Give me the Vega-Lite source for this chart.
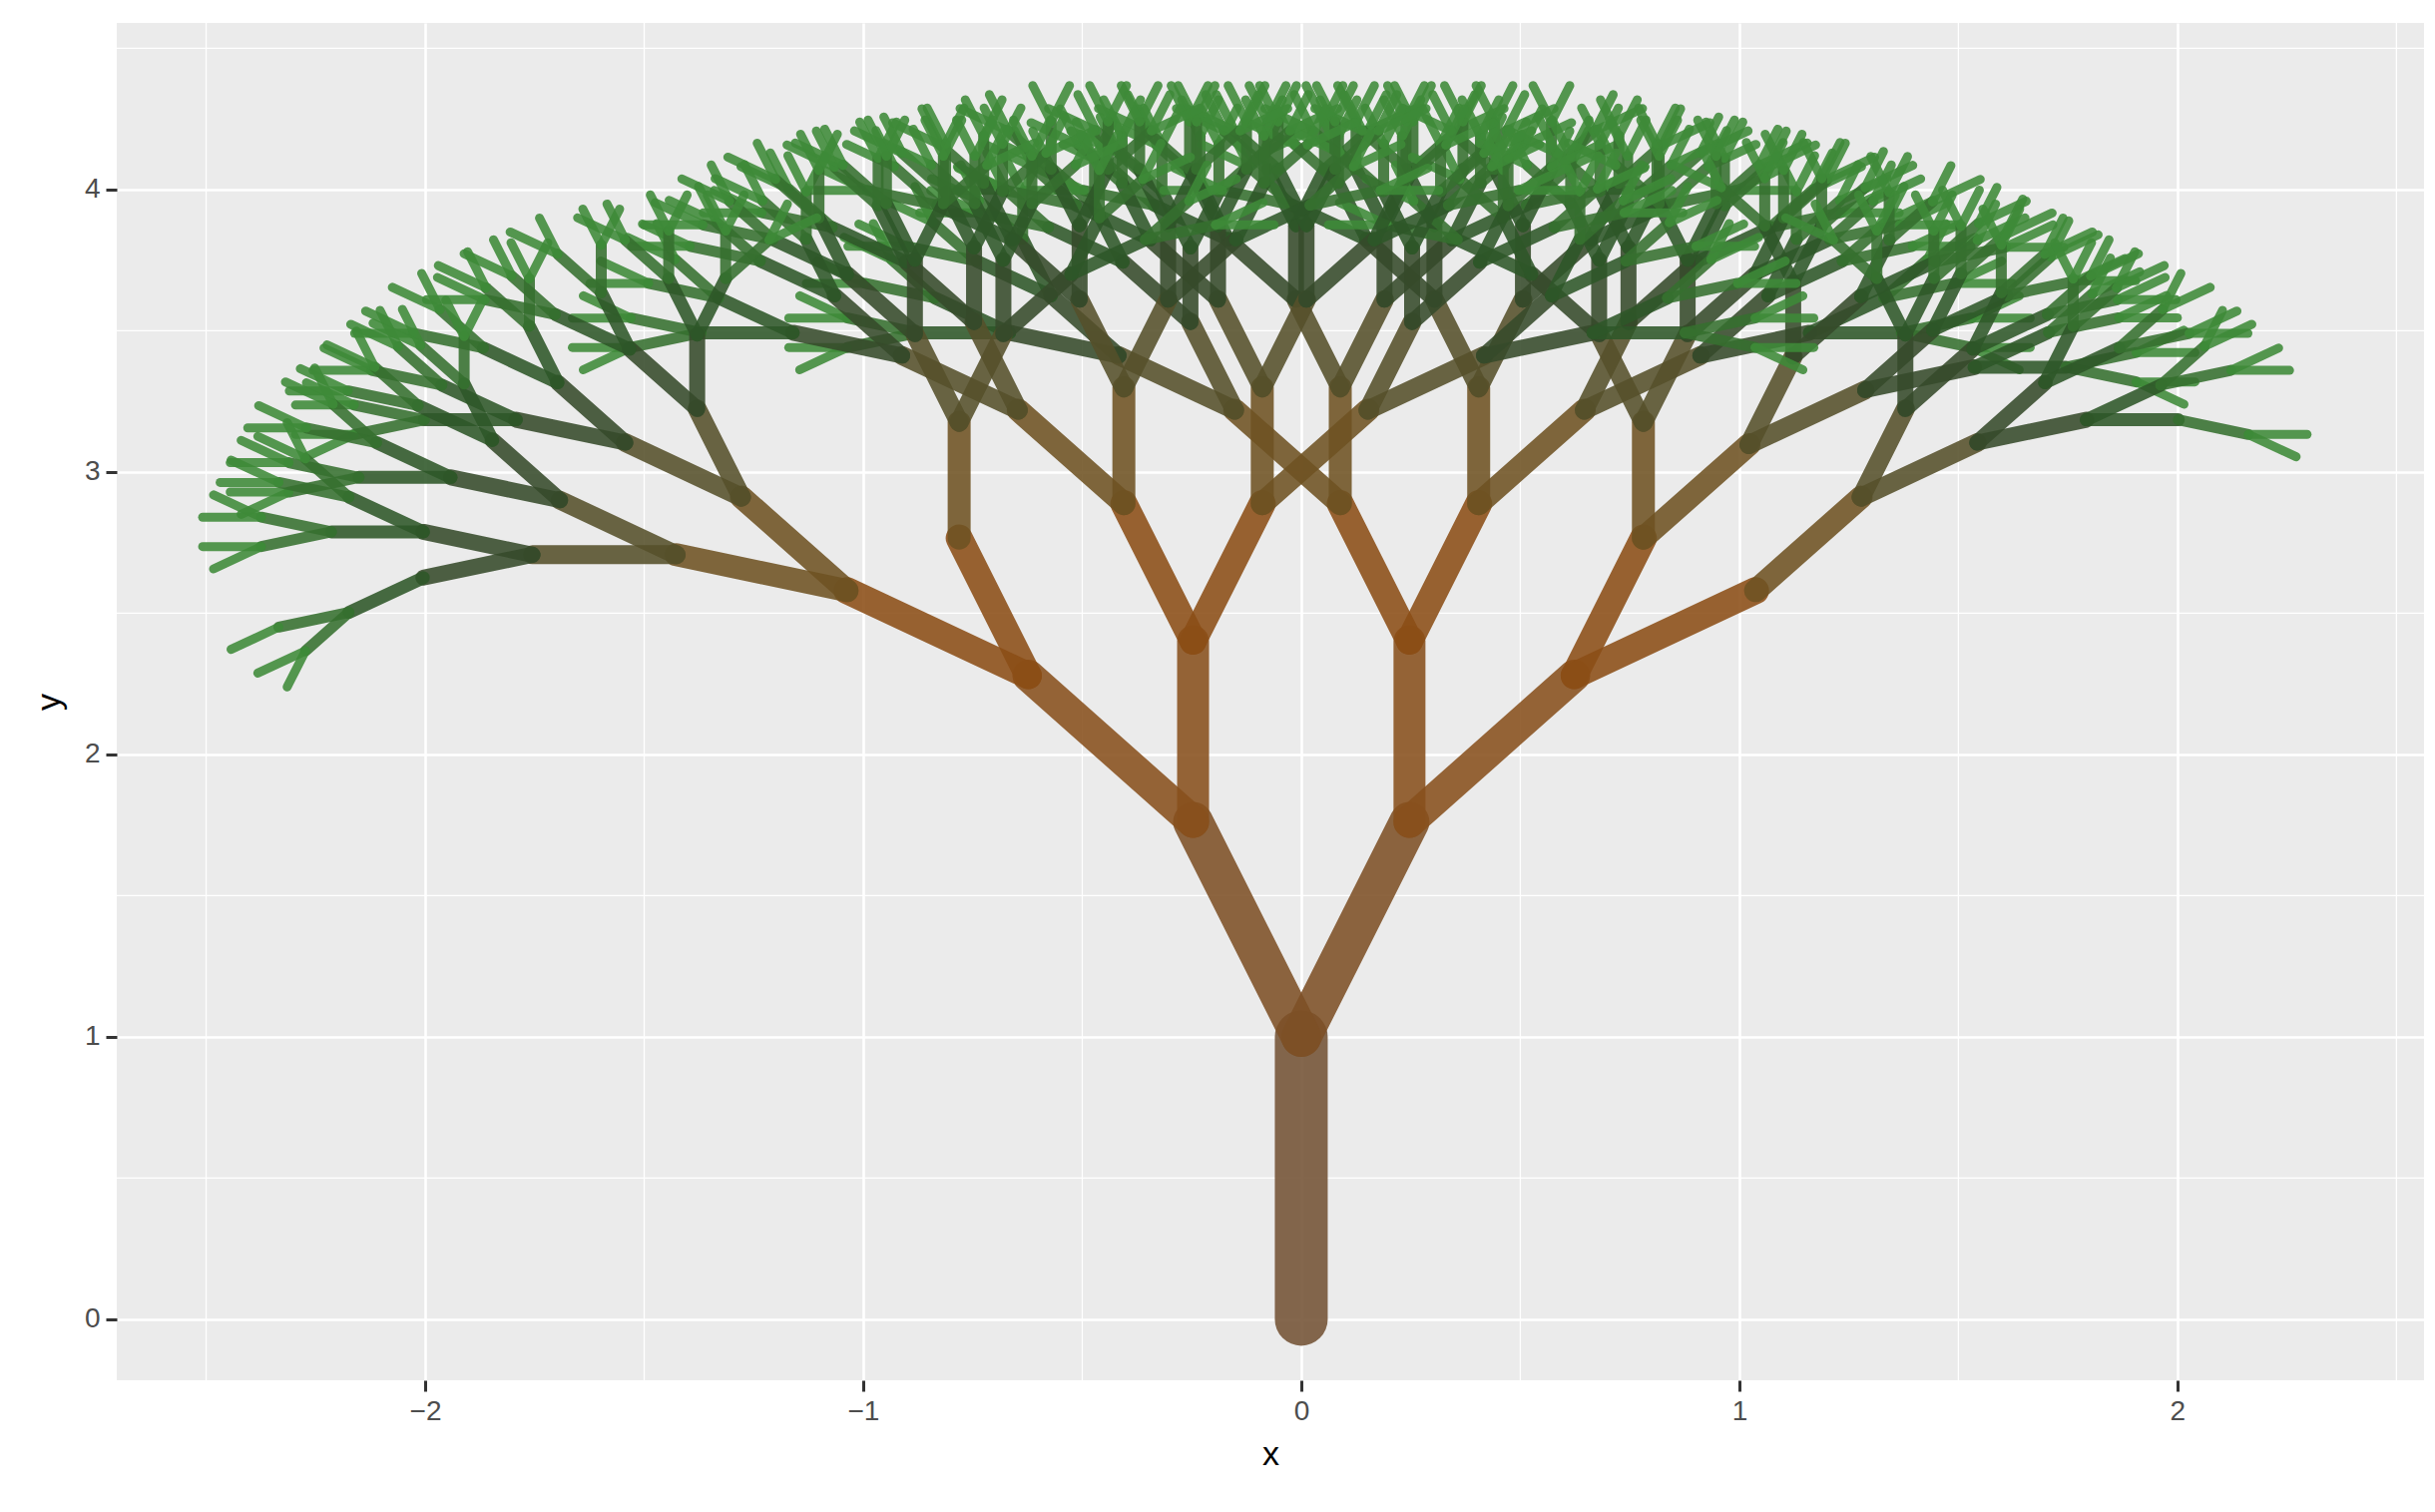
{
  "$schema": "https://vega.github.io/schema/vega-lite/v6.json",
  "width": 2312,
  "height": 1360,
  "autosize": {"type": "none"},
  "padding": {"left": 117, "top": 23, "right": 11, "bottom": 132},
  "background": "white",
  "config": {
    "view": {"fill": "#EBEBEB", "stroke": null},
    "axis": {
      "domain": false,
      "gridColor": "white",
      "gridWidth": 2.6,
      "tickColor": "#333333",
      "tickWidth": 3,
      "tickSize": 11,
      "labelFont": "Liberation Sans",
      "labelFontSize": 28,
      "labelColor": "#4D4D4D",
      "labelPadding": 6,
      "titleFont": "Liberation Sans",
      "titleFontSize": 34,
      "titleFontWeight": "normal",
      "titleColor": "black"
    }
  },
  "layer": [
    {
      "data": {"values": [{"x": -2.5}, {"x": -1.5}, {"x": -0.5}, {"x": 0.5}, {"x": 1.5}, {"x": 2.5}]},
      "mark": {"type": "rule", "color": "white", "strokeWidth": 1.3},
      "encoding": {
        "x": {"field": "x", "type": "quantitative", "scale": {"domain": [-2.704, 2.563], "nice": false, "zero": false},
              "axis": {"values": [-2, -1, 0, 1, 2], "format": "d", "title": "x", "titlePadding": 12}}
      }
    },
    {
      "data": {"values": [{"y": 0.5}, {"y": 1.5}, {"y": 2.5}, {"y": 3.5}, {"y": 4.5}]},
      "mark": {"type": "rule", "color": "white", "strokeWidth": 1.3},
      "encoding": {
        "y": {"field": "y", "type": "quantitative", "scale": {"domain": [-0.216, 4.59], "nice": false, "zero": false},
              "axis": {"values": [0, 1, 2, 3, 4], "format": "d", "title": "y", "titlePadding": 18}}
      }
    },
    {
      "data": {
        "format": {"type": "csv", "parse": {"d": "number", "x": "number", "y": "number", "x2": "number", "y2": "number"}},
        "values": "d,x,y,x2,y2\n0,0,0,0,1\n1,0,1,0.247,1.761\n2,0.247,1.761,0.247,2.401\n2,0.247,1.761,0.623,2.279\n3,0.247,2.401,0.089,2.888\n3,0.247,2.401,0.405,2.888\n3,0.623,2.279,0.781,2.766\n3,0.623,2.279,1.037,2.580\n4,0.089,2.888,-0.152,3.219\n4,0.089,2.888,0.089,3.298\n4,0.405,2.888,0.405,3.298\n4,0.405,2.888,0.646,3.219\n4,0.781,2.766,0.781,3.176\n4,0.781,2.766,1.022,3.097\n4,1.037,2.580,1.278,2.911\n5,-0.152,3.219,-0.417,3.412\n5,-0.152,3.219,-0.253,3.531\n6,-0.417,3.412,-0.666,3.493\n6,-0.417,3.412,-0.571,3.624\n7,-0.666,3.493,-0.876,3.493\n7,-0.666,3.493,-0.836,3.616\n8,-0.876,3.493,-1.036,3.441\n8,-0.876,3.493,-1.036,3.545\n9,-1.036,3.441,-1.145,3.362\n9,-1.036,3.441,-1.170,3.441\n9,-1.036,3.545,-1.170,3.545\n9,-1.036,3.545,-1.145,3.624\n8,-0.836,3.616,-0.996,3.668\n8,-0.836,3.616,-0.935,3.752\n9,-0.996,3.668,-1.130,3.668\n9,-0.996,3.668,-1.105,3.747\n9,-0.935,3.752,-1.044,3.831\n9,-0.935,3.752,-0.977,3.880\n7,-0.571,3.624,-0.741,3.747\n7,-0.571,3.624,-0.636,3.824\n8,-0.741,3.747,-0.901,3.799\n8,-0.741,3.747,-0.840,3.883\n9,-0.901,3.799,-1.035,3.799\n9,-0.901,3.799,-1.010,3.878\n9,-0.840,3.883,-0.949,3.962\n9,-0.840,3.883,-0.882,4.011\n8,-0.636,3.824,-0.735,3.960\n8,-0.636,3.824,-0.636,3.992\n9,-0.735,3.960,-0.844,4.039\n9,-0.735,3.960,-0.777,4.088\n9,-0.636,3.992,-0.678,4.120\n9,-0.636,3.992,-0.594,4.120\n6,-0.253,3.531,-0.407,3.743\n6,-0.253,3.531,-0.253,3.793\n7,-0.407,3.743,-0.577,3.866\n7,-0.407,3.743,-0.472,3.943\n8,-0.577,3.866,-0.737,3.918\n8,-0.577,3.866,-0.676,4.002\n9,-0.737,3.918,-0.871,3.918\n9,-0.737,3.918,-0.846,3.997\n9,-0.676,4.002,-0.785,4.081\n9,-0.676,4.002,-0.718,4.130\n8,-0.472,3.943,-0.571,4.079\n8,-0.472,3.943,-0.472,4.111\n9,-0.571,4.079,-0.680,4.158\n9,-0.571,4.079,-0.613,4.207\n9,-0.472,4.111,-0.514,4.239\n9,-0.472,4.111,-0.430,4.239\n7,-0.253,3.793,-0.318,3.993\n7,-0.253,3.793,-0.188,3.993\n8,-0.318,3.993,-0.417,4.129\n8,-0.318,3.993,-0.318,4.161\n9,-0.417,4.129,-0.526,4.208\n9,-0.417,4.129,-0.459,4.257\n9,-0.318,4.161,-0.360,4.289\n9,-0.318,4.161,-0.276,4.289\n8,-0.188,3.993,-0.188,4.161\n8,-0.188,3.993,-0.089,4.129\n9,-0.188,4.161,-0.230,4.289\n9,-0.188,4.161,-0.146,4.289\n9,-0.089,4.129,-0.047,4.257\n9,-0.089,4.129,0.020,4.208\n5,0.089,3.298,-0.012,3.610\n5,0.089,3.298,0.190,3.610\n6,-0.012,3.610,-0.166,3.822\n6,-0.012,3.610,-0.012,3.872\n7,-0.166,3.822,-0.336,3.945\n7,-0.166,3.822,-0.231,4.022\n8,-0.336,3.945,-0.496,3.997\n8,-0.336,3.945,-0.435,4.081\n9,-0.496,3.997,-0.630,3.997\n9,-0.496,3.997,-0.605,4.076\n9,-0.435,4.081,-0.544,4.160\n9,-0.435,4.081,-0.477,4.209\n8,-0.231,4.022,-0.330,4.158\n8,-0.231,4.022,-0.231,4.190\n9,-0.330,4.158,-0.439,4.237\n9,-0.330,4.158,-0.372,4.286\n9,-0.231,4.190,-0.273,4.318\n9,-0.231,4.190,-0.189,4.318\n7,-0.012,3.872,-0.077,4.072\n7,-0.012,3.872,0.053,4.072\n8,-0.077,4.072,-0.176,4.208\n8,-0.077,4.072,-0.077,4.240\n9,-0.176,4.208,-0.285,4.287\n9,-0.176,4.208,-0.218,4.336\n9,-0.077,4.240,-0.119,4.368\n9,-0.077,4.240,-0.035,4.368\n8,0.053,4.072,0.053,4.240\n8,0.053,4.072,0.152,4.208\n9,0.053,4.240,0.011,4.368\n9,0.053,4.240,0.095,4.368\n9,0.152,4.208,0.194,4.336\n9,0.152,4.208,0.261,4.287\n6,0.190,3.610,0.190,3.872\n6,0.190,3.610,0.344,3.822\n7,0.190,3.872,0.125,4.072\n7,0.190,3.872,0.255,4.072\n8,0.125,4.072,0.026,4.208\n8,0.125,4.072,0.125,4.240\n9,0.026,4.208,-0.083,4.287\n9,0.026,4.208,-0.016,4.336\n9,0.125,4.240,0.083,4.368\n9,0.125,4.240,0.167,4.368\n8,0.255,4.072,0.255,4.240\n8,0.255,4.072,0.354,4.208\n9,0.255,4.240,0.213,4.368\n9,0.255,4.240,0.297,4.368\n9,0.354,4.208,0.396,4.336\n9,0.354,4.208,0.463,4.287\n7,0.344,3.822,0.409,4.022\n7,0.344,3.822,0.514,3.945\n8,0.409,4.022,0.409,4.190\n8,0.409,4.022,0.508,4.158\n9,0.409,4.190,0.367,4.318\n9,0.409,4.190,0.451,4.318\n9,0.508,4.158,0.550,4.286\n9,0.508,4.158,0.617,4.237\n8,0.514,3.945,0.613,4.081\n8,0.514,3.945,0.674,3.997\n9,0.613,4.081,0.655,4.209\n9,0.613,4.081,0.722,4.160\n9,0.674,3.997,0.783,4.076\n9,0.674,3.997,0.808,3.997\n5,0.405,3.298,0.304,3.610\n5,0.405,3.298,0.506,3.610\n6,0.304,3.610,0.150,3.822\n6,0.304,3.610,0.304,3.872\n7,0.150,3.822,-0.020,3.945\n7,0.150,3.822,0.085,4.022\n8,-0.020,3.945,-0.180,3.997\n8,-0.020,3.945,-0.119,4.081\n9,-0.180,3.997,-0.314,3.997\n9,-0.180,3.997,-0.289,4.076\n9,-0.119,4.081,-0.228,4.160\n9,-0.119,4.081,-0.161,4.209\n8,0.085,4.022,-0.014,4.158\n8,0.085,4.022,0.085,4.190\n9,-0.014,4.158,-0.123,4.237\n9,-0.014,4.158,-0.056,4.286\n9,0.085,4.190,0.043,4.318\n9,0.085,4.190,0.127,4.318\n7,0.304,3.872,0.239,4.072\n7,0.304,3.872,0.369,4.072\n8,0.239,4.072,0.140,4.208\n8,0.239,4.072,0.239,4.240\n9,0.140,4.208,0.031,4.287\n9,0.140,4.208,0.098,4.336\n9,0.239,4.240,0.197,4.368\n9,0.239,4.240,0.281,4.368\n8,0.369,4.072,0.369,4.240\n8,0.369,4.072,0.468,4.208\n9,0.369,4.240,0.327,4.368\n9,0.369,4.240,0.411,4.368\n9,0.468,4.208,0.510,4.336\n9,0.468,4.208,0.577,4.287\n6,0.506,3.610,0.506,3.872\n6,0.506,3.610,0.660,3.822\n7,0.506,3.872,0.441,4.072\n7,0.506,3.872,0.571,4.072\n8,0.441,4.072,0.342,4.208\n8,0.441,4.072,0.441,4.240\n9,0.342,4.208,0.233,4.287\n9,0.342,4.208,0.300,4.336\n9,0.441,4.240,0.399,4.368\n9,0.441,4.240,0.483,4.368\n8,0.571,4.072,0.571,4.240\n8,0.571,4.072,0.670,4.208\n9,0.571,4.240,0.529,4.368\n9,0.571,4.240,0.613,4.368\n9,0.670,4.208,0.712,4.336\n9,0.670,4.208,0.779,4.287\n7,0.660,3.822,0.725,4.022\n7,0.660,3.822,0.830,3.945\n8,0.725,4.022,0.725,4.190\n8,0.725,4.022,0.824,4.158\n9,0.725,4.190,0.683,4.318\n9,0.725,4.190,0.767,4.318\n9,0.824,4.158,0.866,4.286\n9,0.824,4.158,0.933,4.237\n8,0.830,3.945,0.929,4.081\n8,0.830,3.945,0.990,3.997\n9,0.929,4.081,0.971,4.209\n9,0.929,4.081,1.038,4.160\n9,0.990,3.997,1.099,4.076\n9,0.990,3.997,1.124,3.997\n5,0.646,3.219,0.747,3.531\n5,0.646,3.219,0.911,3.412\n6,0.747,3.531,0.747,3.793\n6,0.747,3.531,0.901,3.743\n7,0.747,3.793,0.682,3.993\n7,0.747,3.793,0.812,3.993\n8,0.682,3.993,0.583,4.129\n8,0.682,3.993,0.682,4.161\n9,0.583,4.129,0.474,4.208\n9,0.583,4.129,0.541,4.257\n9,0.682,4.161,0.640,4.289\n9,0.682,4.161,0.724,4.289\n8,0.812,3.993,0.812,4.161\n8,0.812,3.993,0.911,4.129\n9,0.812,4.161,0.770,4.289\n9,0.812,4.161,0.854,4.289\n9,0.911,4.129,0.953,4.257\n9,0.911,4.129,1.020,4.208\n7,0.901,3.743,0.966,3.943\n7,0.901,3.743,1.071,3.866\n8,0.966,3.943,0.966,4.111\n8,0.966,3.943,1.065,4.079\n9,0.966,4.111,0.924,4.239\n9,0.966,4.111,1.008,4.239\n9,1.065,4.079,1.107,4.207\n9,1.065,4.079,1.174,4.158\n8,1.071,3.866,1.170,4.002\n8,1.071,3.866,1.231,3.918\n9,1.170,4.002,1.212,4.130\n9,1.170,4.002,1.279,4.081\n9,1.231,3.918,1.340,3.997\n9,1.231,3.918,1.365,3.918\n6,0.911,3.412,1.065,3.624\n6,0.911,3.412,1.160,3.493\n7,1.065,3.624,1.130,3.824\n7,1.065,3.624,1.235,3.747\n8,1.130,3.824,1.130,3.992\n8,1.130,3.824,1.229,3.960\n9,1.130,3.992,1.088,4.120\n9,1.130,3.992,1.172,4.120\n9,1.229,3.960,1.271,4.088\n9,1.229,3.960,1.338,4.039\n8,1.235,3.747,1.334,3.883\n8,1.235,3.747,1.395,3.799\n9,1.334,3.883,1.376,4.011\n9,1.334,3.883,1.443,3.962\n9,1.395,3.799,1.504,3.878\n9,1.395,3.799,1.529,3.799\n7,1.160,3.493,1.330,3.616\n7,1.160,3.493,1.370,3.493\n8,1.330,3.616,1.429,3.752\n8,1.330,3.616,1.490,3.668\n9,1.429,3.752,1.471,3.880\n9,1.429,3.752,1.538,3.831\n9,1.490,3.668,1.599,3.747\n9,1.490,3.668,1.624,3.668\n8,1.370,3.493,1.530,3.545\n8,1.370,3.493,1.530,3.441\n9,1.530,3.545,1.639,3.624\n9,1.530,3.545,1.664,3.545\n9,1.530,3.441,1.664,3.441\n9,1.530,3.441,1.639,3.362\n5,0.781,3.176,0.680,3.488\n5,0.781,3.176,0.882,3.488\n6,0.680,3.488,0.526,3.700\n6,0.680,3.488,0.680,3.750\n7,0.526,3.700,0.356,3.823\n7,0.526,3.700,0.461,3.900\n8,0.356,3.823,0.196,3.875\n8,0.356,3.823,0.257,3.959\n9,0.196,3.875,0.062,3.875\n9,0.196,3.875,0.087,3.954\n9,0.257,3.959,0.148,4.038\n9,0.257,3.959,0.215,4.087\n8,0.461,3.900,0.362,4.036\n8,0.461,3.900,0.461,4.068\n9,0.362,4.036,0.253,4.115\n9,0.362,4.036,0.320,4.164\n9,0.461,4.068,0.419,4.196\n9,0.461,4.068,0.503,4.196\n7,0.680,3.750,0.615,3.950\n7,0.680,3.750,0.745,3.950\n8,0.615,3.950,0.516,4.086\n8,0.615,3.950,0.615,4.118\n9,0.516,4.086,0.407,4.165\n9,0.516,4.086,0.474,4.214\n9,0.615,4.118,0.573,4.246\n9,0.615,4.118,0.657,4.246\n8,0.745,3.950,0.745,4.118\n8,0.745,3.950,0.844,4.086\n9,0.745,4.118,0.703,4.246\n9,0.745,4.118,0.787,4.246\n9,0.844,4.086,0.886,4.214\n9,0.844,4.086,0.953,4.165\n6,0.882,3.488,0.882,3.750\n6,0.882,3.488,1.036,3.700\n7,0.882,3.750,0.817,3.950\n7,0.882,3.750,0.947,3.950\n8,0.817,3.950,0.718,4.086\n8,0.817,3.950,0.817,4.118\n9,0.718,4.086,0.609,4.165\n9,0.718,4.086,0.676,4.214\n9,0.817,4.118,0.775,4.246\n9,0.817,4.118,0.859,4.246\n8,0.947,3.950,0.947,4.118\n8,0.947,3.950,1.046,4.086\n9,0.947,4.118,0.905,4.246\n9,0.947,4.118,0.989,4.246\n9,1.046,4.086,1.088,4.214\n9,1.046,4.086,1.155,4.165\n7,1.036,3.700,1.101,3.900\n7,1.036,3.700,1.206,3.823\n8,1.101,3.900,1.101,4.068\n8,1.101,3.900,1.200,4.036\n9,1.101,4.068,1.059,4.196\n9,1.101,4.068,1.143,4.196\n9,1.200,4.036,1.242,4.164\n9,1.200,4.036,1.309,4.115\n8,1.206,3.823,1.305,3.959\n8,1.206,3.823,1.366,3.875\n9,1.305,3.959,1.347,4.087\n9,1.305,3.959,1.414,4.038\n9,1.366,3.875,1.475,3.954\n9,1.366,3.875,1.500,3.875\n5,1.022,3.097,1.123,3.409\n5,1.022,3.097,1.287,3.290\n6,1.123,3.409,1.123,3.671\n6,1.123,3.409,1.277,3.621\n7,1.123,3.671,1.058,3.871\n7,1.123,3.671,1.188,3.871\n8,1.058,3.871,0.959,4.007\n8,1.058,3.871,1.058,4.039\n9,0.959,4.007,0.850,4.086\n9,0.959,4.007,0.917,4.135\n9,1.058,4.039,1.016,4.167\n9,1.058,4.039,1.100,4.167\n8,1.188,3.871,1.188,4.039\n8,1.188,3.871,1.287,4.007\n9,1.188,4.039,1.146,4.167\n9,1.188,4.039,1.230,4.167\n9,1.287,4.007,1.329,4.135\n9,1.287,4.007,1.396,4.086\n7,1.277,3.621,1.342,3.821\n7,1.277,3.621,1.447,3.744\n8,1.342,3.821,1.342,3.989\n8,1.342,3.821,1.441,3.957\n9,1.342,3.989,1.300,4.117\n9,1.342,3.989,1.384,4.117\n9,1.441,3.957,1.483,4.085\n9,1.441,3.957,1.550,4.036\n8,1.447,3.744,1.546,3.880\n8,1.447,3.744,1.607,3.796\n9,1.546,3.880,1.588,4.008\n9,1.546,3.880,1.655,3.959\n9,1.607,3.796,1.716,3.875\n9,1.607,3.796,1.741,3.796\n6,1.287,3.290,1.441,3.502\n6,1.287,3.290,1.536,3.371\n7,1.441,3.502,1.506,3.702\n7,1.441,3.502,1.611,3.625\n8,1.506,3.702,1.506,3.870\n8,1.506,3.702,1.605,3.838\n9,1.506,3.870,1.464,3.998\n9,1.506,3.870,1.548,3.998\n9,1.605,3.838,1.647,3.966\n9,1.605,3.838,1.714,3.917\n8,1.611,3.625,1.710,3.761\n8,1.611,3.625,1.771,3.677\n9,1.710,3.761,1.752,3.889\n9,1.710,3.761,1.819,3.840\n9,1.771,3.677,1.880,3.756\n9,1.771,3.677,1.905,3.677\n7,1.536,3.371,1.706,3.494\n7,1.536,3.371,1.746,3.371\n8,1.706,3.494,1.805,3.630\n8,1.706,3.494,1.866,3.546\n9,1.805,3.630,1.847,3.758\n9,1.805,3.630,1.914,3.709\n9,1.866,3.546,1.975,3.625\n9,1.866,3.546,2.000,3.546\n8,1.746,3.371,1.906,3.423\n8,1.746,3.371,1.906,3.319\n9,1.906,3.423,2.015,3.502\n9,1.906,3.423,2.040,3.423\n9,1.906,3.319,2.040,3.319\n9,1.906,3.319,2.015,3.240\n5,1.278,2.911,1.379,3.223\n5,1.278,2.911,1.543,3.104\n6,1.379,3.223,1.379,3.485\n6,1.379,3.223,1.533,3.435\n7,1.379,3.485,1.314,3.685\n7,1.379,3.485,1.444,3.685\n8,1.314,3.685,1.215,3.821\n8,1.314,3.685,1.314,3.853\n9,1.215,3.821,1.106,3.900\n9,1.215,3.821,1.173,3.949\n9,1.314,3.853,1.272,3.981\n9,1.314,3.853,1.356,3.981\n8,1.444,3.685,1.444,3.853\n8,1.444,3.685,1.543,3.821\n9,1.444,3.853,1.402,3.981\n9,1.444,3.853,1.486,3.981\n9,1.543,3.821,1.585,3.949\n9,1.543,3.821,1.652,3.900\n7,1.533,3.435,1.598,3.635\n7,1.533,3.435,1.703,3.558\n8,1.598,3.635,1.598,3.803\n8,1.598,3.635,1.697,3.771\n9,1.598,3.803,1.556,3.931\n9,1.598,3.803,1.640,3.931\n9,1.697,3.771,1.739,3.899\n9,1.697,3.771,1.806,3.850\n8,1.703,3.558,1.802,3.694\n8,1.703,3.558,1.863,3.610\n9,1.802,3.694,1.844,3.822\n9,1.802,3.694,1.911,3.773\n9,1.863,3.610,1.972,3.689\n9,1.863,3.610,1.997,3.610\n6,1.543,3.104,1.697,3.316\n6,1.543,3.104,1.792,3.185\n7,1.697,3.316,1.762,3.516\n7,1.697,3.316,1.867,3.439\n8,1.762,3.516,1.762,3.684\n8,1.762,3.516,1.861,3.652\n9,1.762,3.684,1.720,3.812\n9,1.762,3.684,1.804,3.812\n9,1.861,3.652,1.903,3.780\n9,1.861,3.652,1.970,3.731\n8,1.867,3.439,1.966,3.575\n8,1.867,3.439,2.027,3.491\n9,1.966,3.575,2.008,3.703\n9,1.966,3.575,2.075,3.654\n9,2.027,3.491,2.136,3.570\n9,2.027,3.491,2.161,3.491\n7,1.792,3.185,1.962,3.308\n7,1.792,3.185,2.002,3.185\n8,1.962,3.308,2.061,3.444\n8,1.962,3.308,2.122,3.360\n9,2.061,3.444,2.103,3.572\n9,2.061,3.444,2.170,3.523\n9,2.122,3.360,2.231,3.439\n9,2.122,3.360,2.256,3.360\n8,2.002,3.185,2.162,3.133\n9,2.162,3.133,2.296,3.133\n9,2.162,3.133,2.271,3.054\n1,0,1,-0.247,1.761\n2,-0.247,1.761,-0.247,2.401\n2,-0.247,1.761,-0.623,2.279\n3,-0.247,2.401,-0.089,2.888\n3,-0.247,2.401,-0.405,2.888\n3,-0.623,2.279,-0.781,2.766\n3,-0.623,2.279,-1.037,2.580\n4,-0.089,2.888,0.152,3.219\n4,-0.089,2.888,-0.089,3.298\n4,-0.405,2.888,-0.405,3.298\n4,-0.405,2.888,-0.646,3.219\n4,-0.781,2.766,-0.781,3.176\n4,-1.037,2.580,-1.278,2.911\n4,-1.037,2.580,-1.427,2.707\n5,0.152,3.219,0.417,3.412\n5,0.152,3.219,0.253,3.531\n6,0.417,3.412,0.666,3.493\n6,0.417,3.412,0.571,3.624\n7,0.666,3.493,0.876,3.493\n7,0.666,3.493,0.836,3.616\n8,0.876,3.493,1.036,3.441\n8,0.876,3.493,1.036,3.545\n9,1.036,3.441,1.145,3.362\n9,1.036,3.441,1.170,3.441\n9,1.036,3.545,1.170,3.545\n9,1.036,3.545,1.145,3.624\n8,0.836,3.616,0.996,3.668\n8,0.836,3.616,0.935,3.752\n9,0.996,3.668,1.130,3.668\n9,0.996,3.668,1.105,3.747\n9,0.935,3.752,1.044,3.831\n9,0.935,3.752,0.977,3.880\n7,0.571,3.624,0.741,3.747\n7,0.571,3.624,0.636,3.824\n8,0.741,3.747,0.901,3.799\n8,0.741,3.747,0.840,3.883\n9,0.901,3.799,1.035,3.799\n9,0.901,3.799,1.010,3.878\n9,0.840,3.883,0.949,3.962\n9,0.840,3.883,0.882,4.011\n8,0.636,3.824,0.735,3.960\n8,0.636,3.824,0.636,3.992\n9,0.735,3.960,0.844,4.039\n9,0.735,3.960,0.777,4.088\n9,0.636,3.992,0.678,4.120\n9,0.636,3.992,0.594,4.120\n6,0.253,3.531,0.407,3.743\n6,0.253,3.531,0.253,3.793\n7,0.407,3.743,0.577,3.866\n7,0.407,3.743,0.472,3.943\n8,0.577,3.866,0.737,3.918\n8,0.577,3.866,0.676,4.002\n9,0.737,3.918,0.871,3.918\n9,0.737,3.918,0.846,3.997\n9,0.676,4.002,0.785,4.081\n9,0.676,4.002,0.718,4.130\n8,0.472,3.943,0.571,4.079\n8,0.472,3.943,0.472,4.111\n9,0.571,4.079,0.680,4.158\n9,0.571,4.079,0.613,4.207\n9,0.472,4.111,0.514,4.239\n9,0.472,4.111,0.430,4.239\n7,0.253,3.793,0.318,3.993\n7,0.253,3.793,0.188,3.993\n8,0.318,3.993,0.417,4.129\n8,0.318,3.993,0.318,4.161\n9,0.417,4.129,0.526,4.208\n9,0.417,4.129,0.459,4.257\n9,0.318,4.161,0.360,4.289\n9,0.318,4.161,0.276,4.289\n8,0.188,3.993,0.188,4.161\n8,0.188,3.993,0.089,4.129\n9,0.188,4.161,0.230,4.289\n9,0.188,4.161,0.146,4.289\n9,0.089,4.129,0.047,4.257\n9,0.089,4.129,-0.020,4.208\n5,-0.089,3.298,0.012,3.610\n5,-0.089,3.298,-0.190,3.610\n6,0.012,3.610,0.166,3.822\n6,0.012,3.610,0.012,3.872\n7,0.166,3.822,0.336,3.945\n7,0.166,3.822,0.231,4.022\n8,0.336,3.945,0.496,3.997\n8,0.336,3.945,0.435,4.081\n9,0.496,3.997,0.630,3.997\n9,0.496,3.997,0.605,4.076\n9,0.435,4.081,0.544,4.160\n9,0.435,4.081,0.477,4.209\n8,0.231,4.022,0.330,4.158\n8,0.231,4.022,0.231,4.190\n9,0.330,4.158,0.439,4.237\n9,0.330,4.158,0.372,4.286\n9,0.231,4.190,0.273,4.318\n9,0.231,4.190,0.189,4.318\n7,0.012,3.872,0.077,4.072\n7,0.012,3.872,-0.053,4.072\n8,0.077,4.072,0.176,4.208\n8,0.077,4.072,0.077,4.240\n9,0.176,4.208,0.285,4.287\n9,0.176,4.208,0.218,4.336\n9,0.077,4.240,0.119,4.368\n9,0.077,4.240,0.035,4.368\n8,-0.053,4.072,-0.053,4.240\n8,-0.053,4.072,-0.152,4.208\n9,-0.053,4.240,-0.011,4.368\n9,-0.053,4.240,-0.095,4.368\n9,-0.152,4.208,-0.194,4.336\n9,-0.152,4.208,-0.261,4.287\n6,-0.190,3.610,-0.190,3.872\n6,-0.190,3.610,-0.344,3.822\n7,-0.190,3.872,-0.125,4.072\n7,-0.190,3.872,-0.255,4.072\n8,-0.125,4.072,-0.026,4.208\n8,-0.125,4.072,-0.125,4.240\n9,-0.026,4.208,0.083,4.287\n9,-0.026,4.208,0.016,4.336\n9,-0.125,4.240,-0.083,4.368\n9,-0.125,4.240,-0.167,4.368\n8,-0.255,4.072,-0.255,4.240\n8,-0.255,4.072,-0.354,4.208\n9,-0.255,4.240,-0.213,4.368\n9,-0.255,4.240,-0.297,4.368\n9,-0.354,4.208,-0.396,4.336\n9,-0.354,4.208,-0.463,4.287\n7,-0.344,3.822,-0.409,4.022\n7,-0.344,3.822,-0.514,3.945\n8,-0.409,4.022,-0.409,4.190\n8,-0.409,4.022,-0.508,4.158\n9,-0.409,4.190,-0.367,4.318\n9,-0.409,4.190,-0.451,4.318\n9,-0.508,4.158,-0.550,4.286\n9,-0.508,4.158,-0.617,4.237\n8,-0.514,3.945,-0.613,4.081\n8,-0.514,3.945,-0.674,3.997\n9,-0.613,4.081,-0.655,4.209\n9,-0.613,4.081,-0.722,4.160\n9,-0.674,3.997,-0.783,4.076\n9,-0.674,3.997,-0.808,3.997\n5,-0.405,3.298,-0.304,3.610\n5,-0.405,3.298,-0.506,3.610\n6,-0.304,3.610,-0.150,3.822\n6,-0.304,3.610,-0.304,3.872\n7,-0.150,3.822,0.020,3.945\n7,-0.150,3.822,-0.085,4.022\n8,0.020,3.945,0.180,3.997\n8,0.020,3.945,0.119,4.081\n9,0.180,3.997,0.314,3.997\n9,0.180,3.997,0.289,4.076\n9,0.119,4.081,0.228,4.160\n9,0.119,4.081,0.161,4.209\n8,-0.085,4.022,0.014,4.158\n8,-0.085,4.022,-0.085,4.190\n9,0.014,4.158,0.123,4.237\n9,0.014,4.158,0.056,4.286\n9,-0.085,4.190,-0.043,4.318\n9,-0.085,4.190,-0.127,4.318\n7,-0.304,3.872,-0.239,4.072\n7,-0.304,3.872,-0.369,4.072\n8,-0.239,4.072,-0.140,4.208\n8,-0.239,4.072,-0.239,4.240\n9,-0.140,4.208,-0.031,4.287\n9,-0.140,4.208,-0.098,4.336\n9,-0.239,4.240,-0.197,4.368\n9,-0.239,4.240,-0.281,4.368\n8,-0.369,4.072,-0.369,4.240\n8,-0.369,4.072,-0.468,4.208\n9,-0.369,4.240,-0.327,4.368\n9,-0.369,4.240,-0.411,4.368\n9,-0.468,4.208,-0.510,4.336\n9,-0.468,4.208,-0.577,4.287\n6,-0.506,3.610,-0.506,3.872\n6,-0.506,3.610,-0.660,3.822\n7,-0.506,3.872,-0.441,4.072\n7,-0.506,3.872,-0.571,4.072\n8,-0.441,4.072,-0.342,4.208\n8,-0.441,4.072,-0.441,4.240\n9,-0.342,4.208,-0.233,4.287\n9,-0.342,4.208,-0.300,4.336\n9,-0.441,4.240,-0.399,4.368\n9,-0.441,4.240,-0.483,4.368\n8,-0.571,4.072,-0.571,4.240\n8,-0.571,4.072,-0.670,4.208\n9,-0.571,4.240,-0.529,4.368\n9,-0.571,4.240,-0.613,4.368\n9,-0.670,4.208,-0.712,4.336\n9,-0.670,4.208,-0.779,4.287\n7,-0.660,3.822,-0.725,4.022\n7,-0.660,3.822,-0.830,3.945\n8,-0.725,4.022,-0.725,4.190\n8,-0.725,4.022,-0.824,4.158\n9,-0.725,4.190,-0.683,4.318\n9,-0.725,4.190,-0.767,4.318\n9,-0.824,4.158,-0.866,4.286\n9,-0.824,4.158,-0.933,4.237\n8,-0.830,3.945,-0.929,4.081\n8,-0.830,3.945,-0.990,3.997\n9,-0.929,4.081,-0.971,4.209\n9,-0.929,4.081,-1.038,4.160\n9,-0.990,3.997,-1.099,4.076\n9,-0.990,3.997,-1.124,3.997\n5,-0.646,3.219,-0.747,3.531\n5,-0.646,3.219,-0.911,3.412\n6,-0.747,3.531,-0.747,3.793\n6,-0.747,3.531,-0.901,3.743\n7,-0.747,3.793,-0.682,3.993\n7,-0.747,3.793,-0.812,3.993\n8,-0.682,3.993,-0.583,4.129\n8,-0.682,3.993,-0.682,4.161\n9,-0.583,4.129,-0.474,4.208\n9,-0.583,4.129,-0.541,4.257\n9,-0.682,4.161,-0.640,4.289\n9,-0.682,4.161,-0.724,4.289\n8,-0.812,3.993,-0.812,4.161\n8,-0.812,3.993,-0.911,4.129\n9,-0.812,4.161,-0.770,4.289\n9,-0.812,4.161,-0.854,4.289\n9,-0.911,4.129,-0.953,4.257\n9,-0.911,4.129,-1.020,4.208\n7,-0.901,3.743,-0.966,3.943\n7,-0.901,3.743,-1.071,3.866\n8,-0.966,3.943,-0.966,4.111\n8,-0.966,3.943,-1.065,4.079\n9,-0.966,4.111,-0.924,4.239\n9,-0.966,4.111,-1.008,4.239\n9,-1.065,4.079,-1.107,4.207\n9,-1.065,4.079,-1.174,4.158\n8,-1.071,3.866,-1.170,4.002\n8,-1.071,3.866,-1.231,3.918\n9,-1.170,4.002,-1.212,4.130\n9,-1.170,4.002,-1.279,4.081\n9,-1.231,3.918,-1.340,3.997\n9,-1.231,3.918,-1.365,3.918\n6,-0.911,3.412,-1.065,3.624\n6,-0.911,3.412,-1.160,3.493\n7,-1.065,3.624,-1.130,3.824\n7,-1.065,3.624,-1.235,3.747\n8,-1.130,3.824,-1.130,3.992\n8,-1.130,3.824,-1.229,3.960\n9,-1.130,3.992,-1.088,4.120\n9,-1.130,3.992,-1.172,4.120\n9,-1.229,3.960,-1.271,4.088\n9,-1.229,3.960,-1.338,4.039\n8,-1.235,3.747,-1.334,3.883\n8,-1.235,3.747,-1.395,3.799\n9,-1.334,3.883,-1.376,4.011\n9,-1.334,3.883,-1.443,3.962\n9,-1.395,3.799,-1.504,3.878\n9,-1.395,3.799,-1.529,3.799\n7,-1.160,3.493,-1.330,3.616\n7,-1.160,3.493,-1.370,3.493\n8,-1.330,3.616,-1.429,3.752\n8,-1.330,3.616,-1.490,3.668\n9,-1.429,3.752,-1.471,3.880\n9,-1.429,3.752,-1.538,3.831\n9,-1.490,3.668,-1.599,3.747\n9,-1.490,3.668,-1.624,3.668\n8,-1.370,3.493,-1.530,3.545\n8,-1.370,3.493,-1.530,3.441\n9,-1.530,3.545,-1.639,3.624\n9,-1.530,3.545,-1.664,3.545\n9,-1.530,3.441,-1.664,3.441\n9,-1.530,3.441,-1.639,3.362\n5,-0.781,3.176,-0.680,3.488\n5,-0.781,3.176,-0.882,3.488\n6,-0.680,3.488,-0.526,3.700\n6,-0.680,3.488,-0.680,3.750\n7,-0.526,3.700,-0.356,3.823\n7,-0.526,3.700,-0.461,3.900\n8,-0.356,3.823,-0.196,3.875\n8,-0.356,3.823,-0.257,3.959\n9,-0.196,3.875,-0.062,3.875\n9,-0.196,3.875,-0.087,3.954\n9,-0.257,3.959,-0.148,4.038\n9,-0.257,3.959,-0.215,4.087\n8,-0.461,3.900,-0.362,4.036\n8,-0.461,3.900,-0.461,4.068\n9,-0.362,4.036,-0.253,4.115\n9,-0.362,4.036,-0.320,4.164\n9,-0.461,4.068,-0.419,4.196\n9,-0.461,4.068,-0.503,4.196\n7,-0.680,3.750,-0.615,3.950\n7,-0.680,3.750,-0.745,3.950\n8,-0.615,3.950,-0.516,4.086\n8,-0.615,3.950,-0.615,4.118\n9,-0.516,4.086,-0.407,4.165\n9,-0.516,4.086,-0.474,4.214\n9,-0.615,4.118,-0.573,4.246\n9,-0.615,4.118,-0.657,4.246\n8,-0.745,3.950,-0.745,4.118\n8,-0.745,3.950,-0.844,4.086\n9,-0.745,4.118,-0.703,4.246\n9,-0.745,4.118,-0.787,4.246\n9,-0.844,4.086,-0.886,4.214\n9,-0.844,4.086,-0.953,4.165\n6,-0.882,3.488,-0.882,3.750\n6,-0.882,3.488,-1.036,3.700\n7,-0.882,3.750,-0.817,3.950\n7,-0.882,3.750,-0.947,3.950\n8,-0.817,3.950,-0.718,4.086\n8,-0.817,3.950,-0.817,4.118\n9,-0.718,4.086,-0.609,4.165\n9,-0.718,4.086,-0.676,4.214\n9,-0.817,4.118,-0.775,4.246\n9,-0.817,4.118,-0.859,4.246\n8,-0.947,3.950,-0.947,4.118\n8,-0.947,3.950,-1.046,4.086\n9,-0.947,4.118,-0.905,4.246\n9,-0.947,4.118,-0.989,4.246\n9,-1.046,4.086,-1.088,4.214\n9,-1.046,4.086,-1.155,4.165\n7,-1.036,3.700,-1.101,3.900\n7,-1.036,3.700,-1.206,3.823\n8,-1.101,3.900,-1.101,4.068\n8,-1.101,3.900,-1.200,4.036\n9,-1.101,4.068,-1.059,4.196\n9,-1.101,4.068,-1.143,4.196\n9,-1.200,4.036,-1.242,4.164\n9,-1.200,4.036,-1.309,4.115\n8,-1.206,3.823,-1.305,3.959\n8,-1.206,3.823,-1.366,3.875\n9,-1.305,3.959,-1.347,4.087\n9,-1.305,3.959,-1.414,4.038\n9,-1.366,3.875,-1.475,3.954\n9,-1.366,3.875,-1.500,3.875\n5,-1.278,2.911,-1.379,3.223\n5,-1.278,2.911,-1.543,3.104\n6,-1.379,3.223,-1.379,3.485\n6,-1.379,3.223,-1.533,3.435\n7,-1.379,3.485,-1.314,3.685\n7,-1.379,3.485,-1.444,3.685\n8,-1.314,3.685,-1.215,3.821\n8,-1.314,3.685,-1.314,3.853\n9,-1.215,3.821,-1.106,3.900\n9,-1.215,3.821,-1.173,3.949\n9,-1.314,3.853,-1.272,3.981\n9,-1.314,3.853,-1.356,3.981\n8,-1.444,3.685,-1.444,3.853\n8,-1.444,3.685,-1.543,3.821\n9,-1.444,3.853,-1.402,3.981\n9,-1.444,3.853,-1.486,3.981\n9,-1.543,3.821,-1.585,3.949\n9,-1.543,3.821,-1.652,3.900\n7,-1.533,3.435,-1.598,3.635\n7,-1.533,3.435,-1.703,3.558\n8,-1.598,3.635,-1.598,3.803\n8,-1.598,3.635,-1.697,3.771\n9,-1.598,3.803,-1.556,3.931\n9,-1.598,3.803,-1.640,3.931\n9,-1.697,3.771,-1.739,3.899\n9,-1.697,3.771,-1.806,3.850\n8,-1.703,3.558,-1.802,3.694\n8,-1.703,3.558,-1.863,3.610\n9,-1.802,3.694,-1.844,3.822\n9,-1.802,3.694,-1.911,3.773\n9,-1.863,3.610,-1.972,3.689\n9,-1.863,3.610,-1.997,3.610\n6,-1.543,3.104,-1.697,3.316\n6,-1.543,3.104,-1.792,3.185\n7,-1.697,3.316,-1.762,3.516\n7,-1.697,3.316,-1.867,3.439\n8,-1.762,3.516,-1.762,3.684\n8,-1.762,3.516,-1.861,3.652\n9,-1.762,3.684,-1.720,3.812\n9,-1.762,3.684,-1.804,3.812\n9,-1.861,3.652,-1.903,3.780\n9,-1.861,3.652,-1.970,3.731\n8,-1.867,3.439,-1.966,3.575\n8,-1.867,3.439,-2.027,3.491\n9,-1.966,3.575,-2.008,3.703\n9,-1.966,3.575,-2.075,3.654\n9,-2.027,3.491,-2.136,3.570\n9,-2.027,3.491,-2.161,3.491\n7,-1.792,3.185,-1.962,3.308\n7,-1.792,3.185,-2.002,3.185\n8,-1.962,3.308,-2.061,3.444\n8,-1.962,3.308,-2.122,3.360\n9,-2.061,3.444,-2.103,3.572\n9,-2.061,3.444,-2.170,3.523\n9,-2.122,3.360,-2.231,3.439\n9,-2.122,3.360,-2.256,3.360\n8,-2.002,3.185,-2.162,3.237\n8,-2.002,3.185,-2.162,3.133\n9,-2.162,3.237,-2.271,3.316\n9,-2.162,3.237,-2.296,3.237\n9,-2.162,3.133,-2.296,3.133\n9,-2.162,3.133,-2.271,3.054\n5,-1.427,2.707,-1.692,2.900\n5,-1.427,2.707,-1.755,2.707\n6,-1.692,2.900,-1.846,3.112\n6,-1.692,2.900,-1.941,2.981\n7,-1.846,3.112,-1.911,3.312\n7,-1.846,3.112,-2.016,3.235\n8,-1.911,3.312,-1.911,3.480\n8,-1.911,3.312,-2.010,3.448\n9,-1.911,3.480,-1.869,3.608\n9,-1.911,3.480,-1.953,3.608\n9,-2.010,3.448,-2.052,3.576\n9,-2.010,3.448,-2.119,3.527\n8,-2.016,3.235,-2.115,3.371\n8,-2.016,3.235,-2.176,3.287\n9,-2.115,3.371,-2.157,3.499\n9,-2.115,3.371,-2.224,3.450\n9,-2.176,3.287,-2.285,3.366\n9,-2.176,3.287,-2.310,3.287\n7,-1.941,2.981,-2.111,3.104\n7,-1.941,2.981,-2.151,2.981\n8,-2.111,3.104,-2.210,3.240\n8,-2.111,3.104,-2.271,3.156\n9,-2.210,3.240,-2.252,3.368\n9,-2.210,3.240,-2.319,3.319\n9,-2.271,3.156,-2.380,3.235\n9,-2.271,3.156,-2.405,3.156\n8,-2.151,2.981,-2.311,3.033\n8,-2.151,2.981,-2.311,2.929\n9,-2.311,3.033,-2.420,3.112\n9,-2.311,3.033,-2.445,3.033\n9,-2.311,2.929,-2.445,2.929\n9,-2.311,2.929,-2.420,2.850\n6,-1.755,2.707,-2.004,2.788\n6,-1.755,2.707,-2.004,2.626\n7,-2.004,2.788,-2.174,2.911\n7,-2.004,2.788,-2.214,2.788\n8,-2.174,2.911,-2.273,3.047\n8,-2.174,2.911,-2.334,2.963\n9,-2.273,3.047,-2.315,3.175\n9,-2.273,3.047,-2.382,3.126\n9,-2.334,2.963,-2.443,3.042\n9,-2.334,2.963,-2.468,2.963\n8,-2.214,2.788,-2.374,2.840\n8,-2.214,2.788,-2.374,2.736\n9,-2.374,2.840,-2.483,2.919\n9,-2.374,2.840,-2.508,2.840\n9,-2.374,2.736,-2.508,2.736\n9,-2.374,2.736,-2.483,2.657\n7,-2.004,2.626,-2.174,2.503\n8,-2.174,2.503,-2.334,2.451\n8,-2.174,2.503,-2.273,2.367\n9,-2.334,2.451,-2.443,2.372\n9,-2.273,2.367,-2.382,2.288\n9,-2.273,2.367,-2.315,2.239"
      },
      "mark": {"type": "rule", "strokeCap": "round", "opacity": 0.88},
      "encoding": {
        "x": {"field": "x", "type": "quantitative"},
        "y": {"field": "y", "type": "quantitative"},
        "x2": {"field": "x2"},
        "y2": {"field": "y2"},
        "color": {
          "field": "d", "type": "ordinal", "legend": null,
          "scale": {"type": "ordinal", "domain": [0, 1, 2, 3, 4, 5, 6, 7, 8, 9],
                    "range": ["#735234", "#7d5026", "#87501c", "#8b4d16", "#6e5222", "#55502a", "#354a2a", "#2e5628", "#36702f", "#3d8a38"]}
        },
        "size": {
          "field": "d", "type": "ordinal", "legend": null,
          "scale": {"type": "ordinal", "domain": [0, 1, 2, 3, 4, 5, 6, 7, 8, 9],
                    "range": [53, 40, 32, 27, 23, 19, 16, 13, 11, 9]}
        }
      }
    }
  ]
}
